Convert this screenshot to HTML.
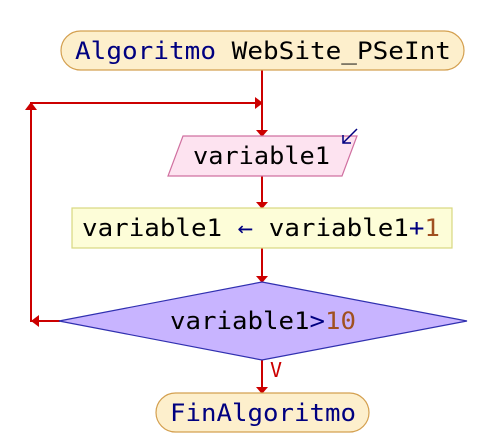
<!DOCTYPE html>
<html><head><meta charset="utf-8"><style>
html,body{margin:0;padding:0;background:#fff;width:488px;height:447px;overflow:hidden}
text{font-family:"DejaVu Sans Mono","Liberation Mono",monospace;font-size:24px}
</style></head><body>
<svg width="488" height="447" viewBox="0 0 488 447" xmlns="http://www.w3.org/2000/svg">
<g stroke="#cc0000" stroke-width="2" fill="none">
<line x1="262" y1="70" x2="262" y2="130"/>
<polyline points="60,321 31,321 31,103 256,103"/>
<line x1="262" y1="176" x2="262" y2="202"/>
<line x1="262" y1="248" x2="262" y2="276"/>
<line x1="262" y1="360" x2="262" y2="387"/>
</g>
<g fill="#cc0000">
<polygon points="256,130 268,130 262,137"/>
<polygon points="256,202 268,202 262,209"/>
<polygon points="256,276 268,276 262,283"/>
<polygon points="256,387 268,387 262,394"/>
<polygon points="255,97 255,109 263,103"/>
<polygon points="25,110 37,110 31,102"/>
<polygon points="39,315 39,327 31,321"/>
</g>
<rect x="61" y="31" width="403" height="39" rx="19.5" fill="#fdefcc" stroke="#d4a050" stroke-width="1.2"/>
<text x="75" y="59" textLength="376" lengthAdjust="spacingAndGlyphs"><tspan fill="#000080">Algoritmo</tspan><tspan fill="#000"> WebSite_PSeInt</tspan></text>
<polygon points="183,136 357,136 342,176 168,176" fill="#fde3f0" stroke="#d070a0" stroke-width="1.2"/>
<text x="193" y="164" textLength="137" lengthAdjust="spacingAndGlyphs" fill="#000">variable1</text>
<line x1="357" y1="129" x2="343" y2="143" stroke="#000080" stroke-width="1.5"/>
<polyline points="343,135 343,143 351,143" stroke="#000080" stroke-width="1.5" fill="none"/>
<rect x="72" y="208" width="380" height="40" fill="#fdfdd8" stroke="#d8d880" stroke-width="1.2"/>
<text x="82" y="236" textLength="358" lengthAdjust="spacingAndGlyphs"><tspan fill="#000">variable1 </tspan><tspan fill="#000080">←</tspan><tspan fill="#000"> variable1</tspan><tspan fill="#000080">+</tspan><tspan fill="#a05020">1</tspan></text>
<polygon points="262,282 467,321 262,360 59,321" fill="#c8b4ff" stroke="#3030b0" stroke-width="1.2"/>
<text x="170" y="329" textLength="186" lengthAdjust="spacingAndGlyphs"><tspan fill="#000">variable1</tspan><tspan fill="#000080">&gt;</tspan><tspan fill="#a05020">10</tspan></text>
<text x="270" y="377" fill="#cc0000" style="font-size:20px">V</text>
<rect x="156" y="393" width="213" height="39" rx="19.5" fill="#fdefcc" stroke="#d4a050" stroke-width="1.2"/>
<text x="170" y="421" textLength="186" lengthAdjust="spacingAndGlyphs" fill="#000080">FinAlgoritmo</text>
</svg>
</body></html>
